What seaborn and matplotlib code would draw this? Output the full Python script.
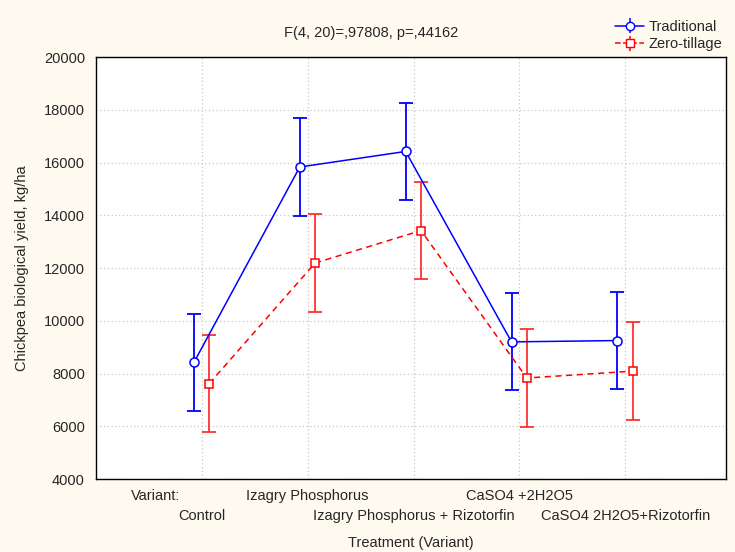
import numpy as np
import pandas as pd
import matplotlib
matplotlib.use("Agg")
import matplotlib.pyplot as plt
import seaborn as sns

# data
variants = ["Control", "Izagry Phosphorus", "Izagry Phosphorus + Rizotorfin",
            "CaSO4 +2H2O5", "CaSO4 2H2O5+Rizotorfin"]
trad_mean = [8420, 15830, 16420, 9200, 9250]
trad_err = [1840, 1840, 1830, 1840, 1840]
zero_mean = [7620, 12190, 13420, 7830, 8090]
zero_err = [1840, 1840, 1830, 1850, 1850]

bg = "#fffaf0"
sns.set_style("white")
plt.rcParams["font.family"] = ["Liberation Sans", "DejaVu Sans"]
fs = 10.5

fig = plt.figure(figsize=(7.35, 5.52), dpi=100, facecolor=bg)
ax = fig.add_axes([0.1306, 0.1322, 0.857, 0.7645])
ax.set_facecolor("white")

idx = np.arange(len(variants))
df = pd.DataFrame({
    "x": np.concatenate([idx - 0.075, idx + 0.07]),
    "y": trad_mean + zero_mean,
    "Tillage": ["Traditional"] * 5 + ["Zero-tillage"] * 5,
})
colors = {"Traditional": "#0000ff", "Zero-tillage": "#ff0000"}

# grid first so it sits under the data
for v in range(4000, 20001, 2000):
    ax.axhline(v, color="#c8c8c8", lw=0.9, ls=(0, (1, 2)), zorder=0)
for i in idx:
    ax.axvline(i, color="#c8c8c8", lw=0.9, ls=(0, (1, 2)), zorder=0)

sns.lineplot(data=df, x="x", y="y", hue="Tillage", style="Tillage",
             palette=colors, markers={"Traditional": "o", "Zero-tillage": "s"},
             dashes={"Traditional": "", "Zero-tillage": (4, 3)},
             markersize=6.5, markerfacecolor="white", markeredgewidth=1.1,
             linewidth=1.1, legend=False, ax=ax, zorder=3)
for ln, c in zip(ax.lines[-2:], ["#0000ff", "#ff0000"]):
    ln.set_markeredgecolor(c)
ax.lines[-1].set_markersize(6)

ax.errorbar(idx - 0.075, trad_mean, yerr=trad_err, fmt="none",
            ecolor="#0000ff", elinewidth=1.3, capsize=5, capthick=1.3, zorder=2)
ax.errorbar(idx + 0.07, zero_mean, yerr=zero_err, fmt="none",
            ecolor="#ff3030", elinewidth=1.3, capsize=5, capthick=1.3, zorder=2)

# legend handles with whiskers like the original
h1 = ax.errorbar([], [], yerr=[], fmt="-o", color="#0000ff", mfc="white",
                 ms=6, capsize=5, lw=1.1, label="Traditional")
h2 = ax.errorbar([], [], yerr=[], fmt="--s", color="#ff0000", mfc="white",
                 ms=5.5, capsize=5, lw=1.1, label="Zero-tillage")
fig.legend(handles=[h1, h2], loc="upper right", bbox_to_anchor=(0.995, 0.98),
           frameon=False, fontsize=fs, handlelength=2.0, handletextpad=0.3,
           labelspacing=0.25, borderaxespad=0.2)

ax.set_xlim(-1, 4.95)
ax.set_ylim(4000, 20000)
ax.set_yticks(range(4000, 20001, 2000))
ax.set_yticklabels([str(v) for v in range(4000, 20001, 2000)], fontsize=fs)
ax.set_xticks(idx)
ax.set_xticklabels([])
ax.tick_params(axis="both", length=0, pad=8)

# staggered category labels, two rows
xt = ax.get_xaxis_transform()
ax.text(-0.44, -0.040, "Variant:", transform=xt, ha="center", va="center", fontsize=fs)
for i, v in enumerate(variants):
    row_y = -0.088 if i % 2 == 0 else -0.040
    ax.text(i, row_y, v, transform=xt, ha="center", va="center", fontsize=fs)

for s in ax.spines.values():
    s.set_color("black")
    s.set_linewidth(1.0)

ax.set_xlabel("Treatment (Variant)", fontsize=fs, va="center")
ax.xaxis.set_label_coords(0.5, -0.152)
ax.set_ylabel("Chickpea biological yield, kg/ha", fontsize=fs, va="center")
ax.yaxis.set_label_coords(-0.1175, 0.5)
fig.text(0.505, 0.94, "F(4, 20)=,97808, p=,44162", ha="center", va="center",
         fontsize=fs)

fig.savefig("out.png", dpi=100, facecolor=bg)
